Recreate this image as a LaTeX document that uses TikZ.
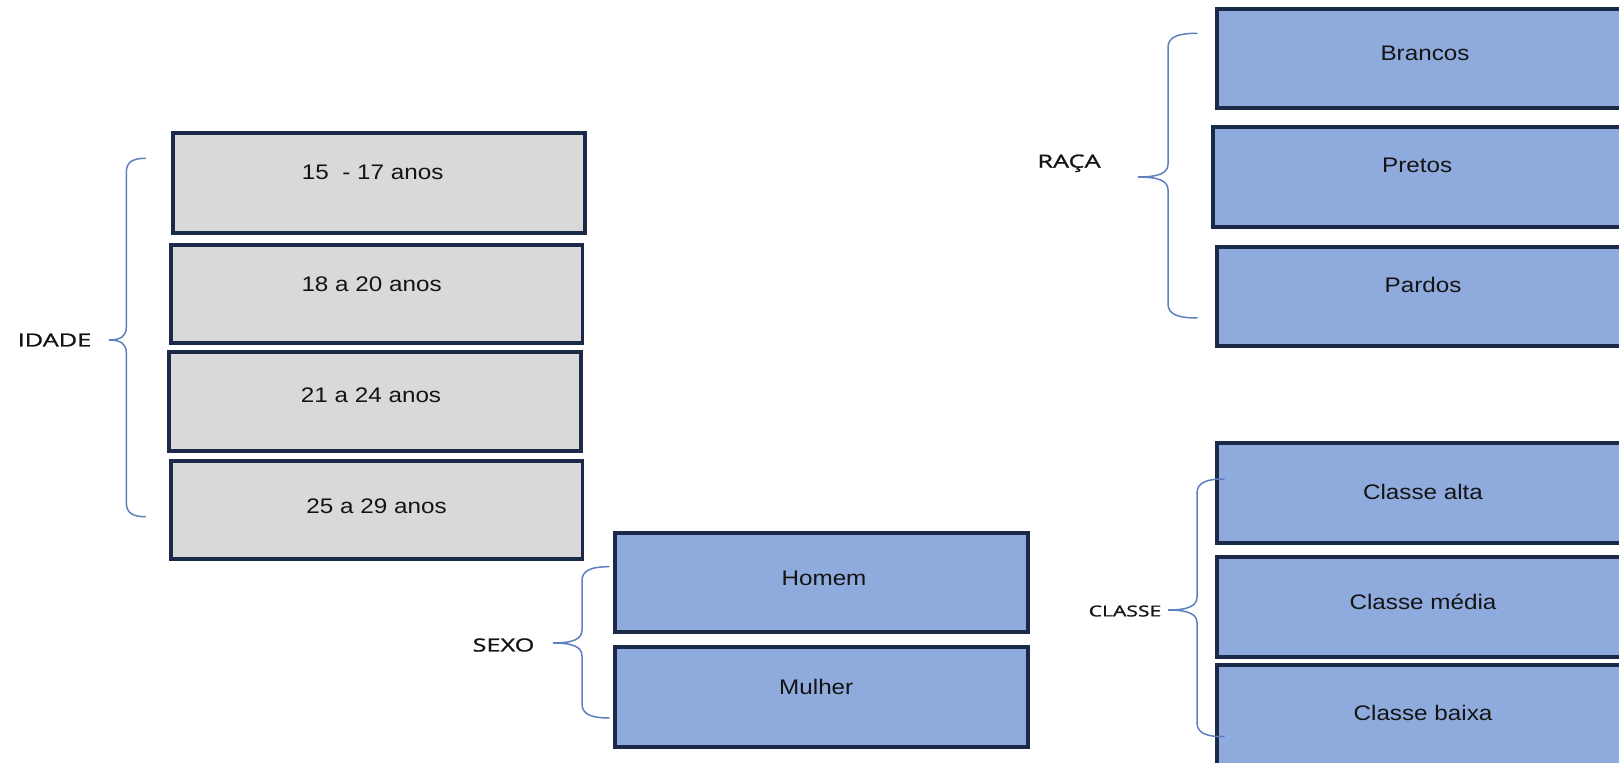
\documentclass[tikz,border=0pt]{standalone}
\usepackage{fontspec}
\setmainfont{Liberation Sans}[FakeStretch=1.15]
\newfontfamily\lblfont{Open Sans}[FakeStretch=1.4, FakeBold=1.2]
\definecolor{navy}{HTML}{1B2A48}
\definecolor{grayfill}{HTML}{D9D9D9}
\definecolor{bluefill}{HTML}{8FAADC}
\definecolor{bracecol}{HTML}{5E80BE}
\definecolor{txt}{HTML}{141414}
\newcommand{\drawbrace}[6]{% xe, xs, xt, yt, ym, yb
  \draw[bracelin] (#1,#4) .. controls ({#2+0.4*(#1-#2)},#4) and (#2,{#4+3}) .. (#2,{#4+14})
    -- (#2,{#5-13}) .. controls (#2,{#5-4}) and ({#2-0.3*(#2-#3)},#5) .. (#3,#5)
    .. controls ({#2-0.3*(#2-#3)},#5) and (#2,{#5+4}) .. (#2,{#5+13})
    -- (#2,{#6-14}) .. controls (#2,{#6-3}) and ({#2+0.4*(#1-#2)},#6) .. (#1,#6);}
\tikzset{
  gbox/.style={draw=navy, line width=0.075cm, fill=grayfill, inner xsep=0pt, inner ysep=0pt,
    minimum width=8.24cm, minimum height=0pt, text=txt, font=\fontsize{12}{14}\selectfont},
  bbox/.style={gbox, fill=bluefill},
  lbl/.style={font=\lblfont\fontsize{10.3}{12}\selectfont, text=txt, inner sep=0pt},
  bracelin/.style={draw=bracecol, line width=0.03cm, line cap=round}
}
\begin{document}
\begin{tikzpicture}[x=0.02cm, y=-0.02cm]
\useasboundingbox (0,0) rectangle (1619,763);
\clip (0,0) rectangle (1619,763);
\fill[white] (0,0) rectangle (1619,763);

% IDADE
\node[gbox, text height=0.918cm, text depth=1.082cm] (a1) at (379,183.3) {15\ \ - 17 anos\kern0.25cm};
\node[gbox, text height=0.930cm, text depth=1.024cm] (a2) at (376.6,293.8) {18 a 20 anos\kern0.2cm};
\node[gbox, text height=1.016cm, text depth=0.964cm] (a3) at (375.3,401.2) {21 a 24 anos\kern0.17cm};
\node[gbox, text height=1.056cm, text depth=0.916cm] (a4) at (376.6,510) {25 a 29 anos};
\node[lbl] (idade) at (54.5,340) {IDADE};
\drawbrace{145.4}{126.3}{109}{158.3}{340}{516.7}

% SEXO
\node[bbox, minimum width=8.26cm, text height=1.050cm, text depth=0.916cm] (s1) at (821.5,582.5) {\kern0.1cm Homem};
\node[bbox, minimum width=8.26cm, text height=0.936cm, text depth=1.050cm] (s2) at (821.5,697) {Mulher\kern0.21cm};
\node[lbl] (sexo) at (503.5,645) {SEXO};
\drawbrace{609}{582}{553}{566.7}{643}{718}

% RACA
\node[bbox, text height=1.030cm, text depth=0.950cm] (r1) at (1423,58.8) {\kern0.08cm Brancos};
\node[bbox, text height=0.916cm, text depth=1.084cm] (r2) at (1419.2,176.7) {Pretos\kern0.08cm};
\node[bbox, text height=0.916cm, text depth=1.070cm] (r3) at (1423,296.3) {Pardos};
\node[lbl] (raca) at (1069,163.3) {RAÇA};
\drawbrace{1197}{1168}{1138}{33.3}{177}{318}

% CLASSE
\node[bbox, text height=1.118cm, text depth=0.870cm] (c1) at (1423,493) {Classe alta};
\node[bbox, text height=1.038cm, text depth=0.950cm] (c2) at (1423,607) {Classe média};
\node[bbox, text height=1.098cm, text depth=0.890cm] (c3) at (1423,715) {Classe baixa};
\node[lbl, font=\lblfont\fontsize{8.6}{10}\selectfont] (classe) at (1125,611) {CLASSE};
\drawbrace{1224}{1197}{1168}{479}{610}{736.7}
\end{tikzpicture}
\end{document}
